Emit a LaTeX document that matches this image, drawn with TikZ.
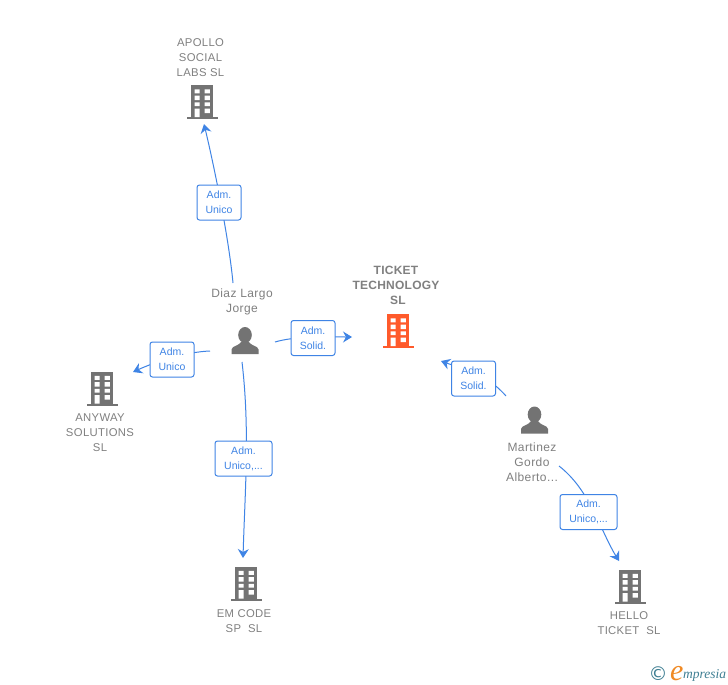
\documentclass[tikz,border=0pt]{standalone}
\usepackage{fontspec}
\setmainfont{Liberation Sans}
\newfontfamily\logoserif{Liberation Serif}
\newfontfamily\logosans{DejaVu Sans}
\usetikzlibrary{arrows.meta}
\definecolor{icongray}{HTML}{737373}
\definecolor{textgray}{HTML}{808080}
\definecolor{linkblue}{HTML}{3F84E5}
\definecolor{mainred}{HTML}{FF5A2B}
\definecolor{logoteal}{HTML}{3F7F93}
\definecolor{logoorange}{HTML}{F08A24}
\tikzset{
  x=1pt,y=-1pt,
  link/.style={draw=linkblue,line width=1pt,-{Stealth[length=9pt,width=11pt,inset=3pt]}},
  tagbox/.style={draw=linkblue,line width=1pt,rounded corners=2.5pt,fill=white,text=linkblue,
    font=\fontsize{10.5}{15}\selectfont,align=center,inner sep=0pt,minimum height=35pt},
  tagS/.style={tagbox,minimum width=44pt},
  tagL/.style={tagbox,minimum width=57pt},
  nametext/.style={text=textgray,font=\fontsize{11.3}{15}\selectfont\addfontfeature{LetterSpace=3},align=center,inner sep=0pt},
  persontext/.style={nametext,font=\fontsize{12}{15}\selectfont\addfontfeature{LetterSpace=3.5}},
  mainname/.style={nametext,font=\fontsize{12}{15}\selectfont\bfseries\addfontfeature{LetterSpace=2}},
  pics/bldg/.style={code={
    \fill[#1] (-11,-17) rectangle (11,15);
    \fill[#1] (-15.5,15) rectangle (15.5,17);
    \fill[white] (-7.3,-12.7) rectangle (-2.3,-8.7) (2.5,-12.7) rectangle (7.8,-8.7)
                 (-7.3,-6.3) rectangle (-2.3,-2) (2.5,-6.3) rectangle (7.8,-2)
                 (-7.3,0.3) rectangle (-2.3,4) (2.5,0.3) rectangle (7.8,4)
                 (-7.3,6.7) rectangle (-2.3,15) (2.5,6.7) rectangle (7.8,11);
  }},
  pics/person/.style={code={
    \fill[icongray] (0,-5.5) ellipse (6.8 and 8);
    \fill[icongray] (-13.5,13.5) -- (-13.5,9) .. controls (-13.5,5.5) and (-5,5) .. (-3.5,1)
      -- (3.5,1) .. controls (5,5) and (13.5,5.5) .. (13.5,9) -- (13.5,13.5) -- cycle;
  }}
}
\begin{document}
\begin{tikzpicture}
\useasboundingbox[fill=white] (0,0) rectangle (728,685);
% connector ends
\coordinate (a0) at (233,283); \coordinate (a1) at (204,124);
\coordinate (s0) at (275,342); \coordinate (s1) at (352,337);
\coordinate (w0) at (210,351); \coordinate (w1) at (133,372);
\coordinate (e0) at (242,362); \coordinate (e1) at (243,558);
\coordinate (m0) at (506,396); \coordinate (m1) at (441,361);
\coordinate (h0) at (559,466); \coordinate (h1) at (619,561);
% connectors
\draw[link] (a0) .. controls (229,240) and (215,170) .. (a1);
\draw[link] (s0) .. controls (295,336) and (325,337) .. (s1);
\draw[link] (w0) .. controls (185,352) and (155,362) .. (w1);
\draw[link] (e0) .. controls (250,430) and (245,490) .. (e1);
\draw[link] (m0) .. controls (485,372) and (460,368) .. (m1);
\draw[link] (h0) .. controls (590,490) and (600,530) .. (h1);
% connector labels
\node[tagS] (la) at (219,202.5) {Adm.\hspace{5pt}\\Unico};
\node[tagS] (ls) at (313,338) {Adm.\hspace{5pt}\\Solid.};
\node[tagS] (lw) at (172,359.5) {Adm.\hspace{5pt}\\Unico};
\node[tagL] (le) at (243.5,458.5) {Adm.\hspace{5pt}\\Unico,...};
\node[tagS] (lm) at (473.5,378.5) {Adm.\hspace{5pt}\\Solid.};
\node[tagL] (lh) at (588.5,512) {Adm.\hspace{5pt}\\Unico,...};
% icons
\pic at (202,102) {bldg=icongray};
\pic at (102,388.5) {bldg=icongray};
\pic at (246,583.5) {bldg=icongray};
\pic at (630,586.5) {bldg=icongray};
\pic at (398,331) {bldg=mainred};
\pic at (245,340.5) {person};
\pic at (534.5,420) {person};
% names
\node[nametext] (n1) at (200.5,57.3) {APOLLO\\SOCIAL\\LABS SL};
\node[mainname] (n2) at (396,285) {TICKET\\TECHNOLOGY\\\hspace{4pt}SL};
\node[persontext] (n3) at (242,301.5) {Diaz Largo\\Jorge};
\node[nametext] (n4) at (100,433) {ANYWAY\\SOLUTIONS\\SL};
\node[nametext] (n5) at (244,621.5) {EM CODE\\SP\ \ SL};
\node[nametext] (n6) at (629,623.5) {HELLO\\TICKET\ \ SL};
\node[persontext] (n7) at (532,462) {Martinez\\Gordo\\Alberto...};
% logo
\node[text=logoteal,font=\logosans\fontsize{19}{19}\selectfont,inner sep=0pt] (lc) at (658,674) {©};
\node[anchor=base west,text=logoorange,font=\logoserif\itshape\fontsize{30}{30}\selectfont,inner sep=0pt] (lE) at (670,680) {e};
\node[anchor=base west,text=logoteal,font=\logoserif\itshape\fontsize{13.5}{14}\selectfont,inner sep=0pt] (lp) at (683,678) {mpresia};
\end{tikzpicture}
\end{document}
